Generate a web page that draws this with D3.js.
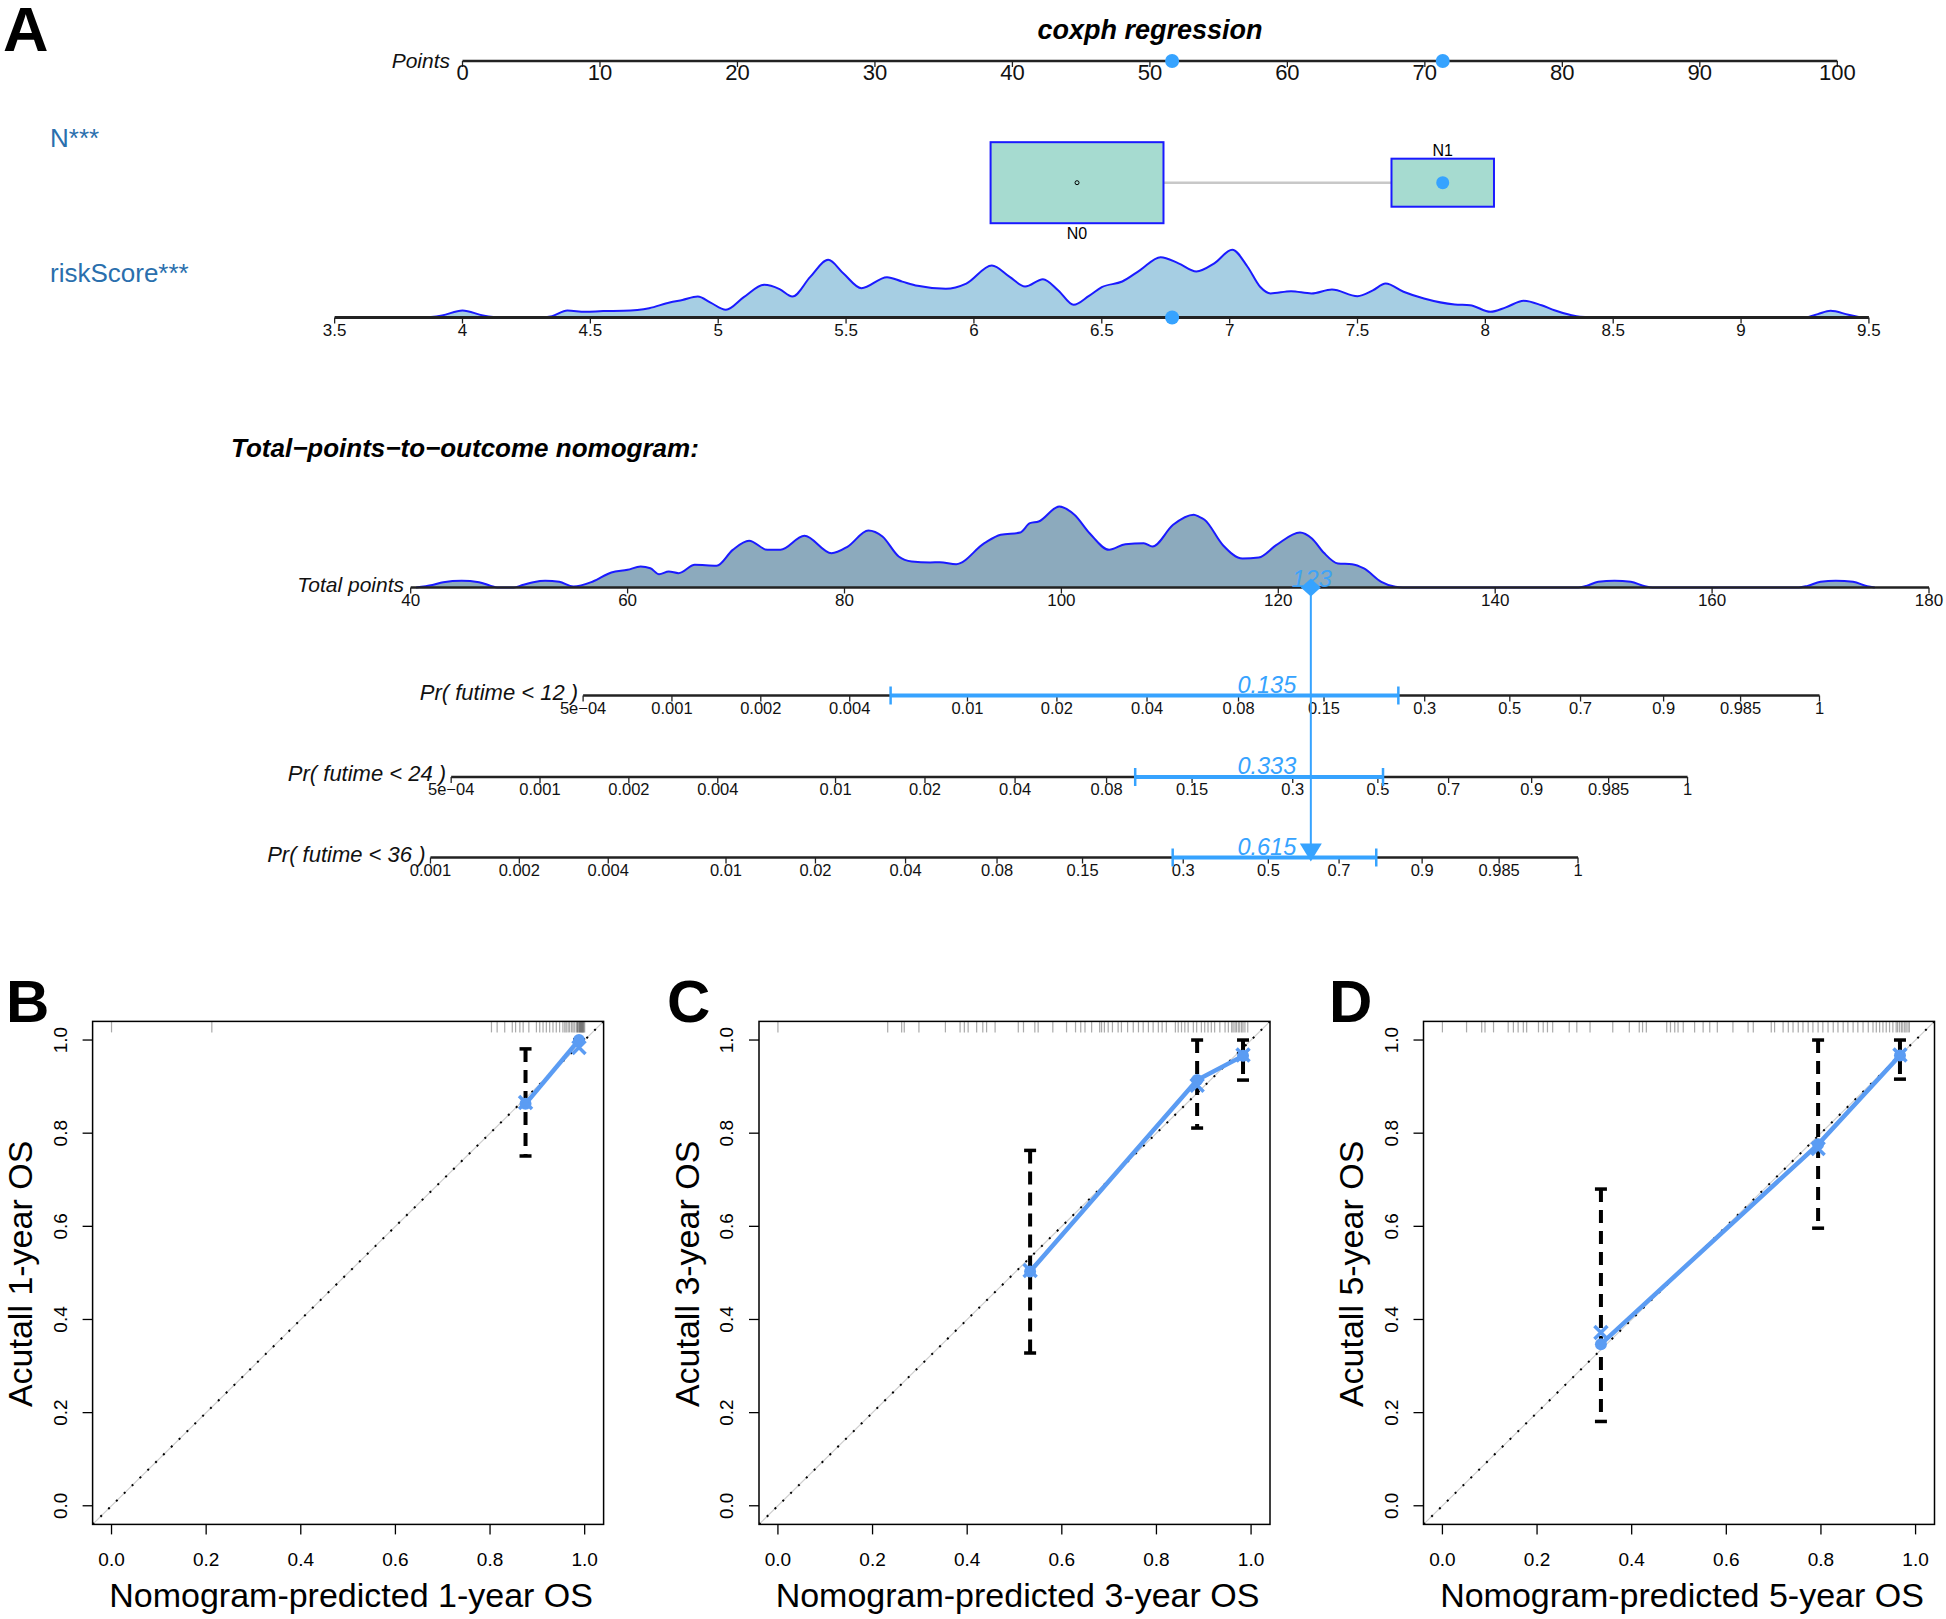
<!DOCTYPE html>
<html><head><meta charset="utf-8">
<script src="https://cdn.jsdelivr.net/npm/d3@7"></script>
<style>body{margin:0;background:#fff}</style>
</head><body>
<svg id="chart" width="1946" height="1619"></svg>
<script>
// ---------------- DATA ----------------
const pointsTicks = [0,10,20,30,40,50,60,70,80,90,100];
const riskTicks = [3.5,4,4.5,5,5.5,6,6.5,7,7.5,8,8.5,9,9.5];
const riskTickLabels = ["3.5","4","4.5","5","5.5","6","6.5","7","7.5","8","8.5","9","9.5"];
const riskAtZero = 4;          // riskScore with 0 points
const riskPointsPerUnit = 18.6; // points per riskScore unit
const riskDensX = [3.80,3.84,3.92,4.0,4.08,4.15,4.3,4.35,4.41,4.48,4.55,4.63,4.73,4.81,4.86,4.92,4.97,5.03,5.1,5.18,5.24,5.29,5.36,5.43,5.49,5.56,5.66,5.72,5.78,5.89,5.97,6.07,6.14,6.2,6.27,6.33,6.39,6.45,6.5,6.58,6.65,6.73,6.8,6.87,6.94,7.01,7.07,7.12,7.16,7.24,7.32,7.4,7.5,7.56,7.61,7.68,7.76,7.88,7.94,8.02,8.08,8.15,8.22,8.27,8.33,8.37,8.45,9.25,9.3,9.35,9.42,9.47];
const riskDensY = [0,0,0.03,0.103,0.03,0,0,0.02,0.103,0.084,0.095,0.099,0.137,0.222,0.26,0.31,0.22,0.114,0.3,0.483,0.42,0.31,0.6,0.852,0.65,0.433,0.595,0.53,0.468,0.424,0.5,0.768,0.6,0.458,0.566,0.4,0.188,0.32,0.448,0.532,0.7,0.891,0.8,0.68,0.8,1.0,0.75,0.45,0.355,0.388,0.355,0.414,0.315,0.4,0.502,0.38,0.28,0.192,0.182,0.084,0.15,0.247,0.18,0.108,0.04,0.01,0,0,0.05,0.099,0.04,0];
const riskObserved = 6.775;

const nCategories = ["N0","N1"];
const nPoints = [44.7, 71.3];
const nFreq = [0.74, 0.26];
const nObserved = 1; // index of N1

const totalTicks = [40,60,80,100,120,140,160,180];
const totalDensX = [40.5,42,43,44.7,46.3,47.4,48,49.5,50.3,51.3,52.4,53.7,55,56.8,58.5,60,61.2,62.1,62.9,63.8,64.7,66.2,68.2,69.7,71.2,72.9,74.1,76.3,78.8,80.3,82.2,83.5,85,86.2,87.9,88.8,90.3,92.9,94.4,96.2,97.1,97.9,99.8,101.2,102.6,104.4,105.9,107.6,108.4,110.3,112.2,112.7,113.2,114.9,116.7,118.2,119.8,122,123.1,124.2,125.5,126.8,127.9,129.5,130.8,131.5,147.5,148.4,149.5,151,152.5,153.8,154.5,168,168.8,170,171.4,173,174.3,175];
const totalDensY = [0,0.03,0.065,0.083,0.065,0.02,0,0,0.03,0.065,0.083,0.07,0.012,0.074,0.185,0.218,0.26,0.238,0.164,0.198,0.177,0.28,0.268,0.465,0.577,0.465,0.465,0.638,0.423,0.506,0.704,0.63,0.383,0.321,0.309,0.312,0.288,0.547,0.651,0.679,0.794,0.815,1.0,0.898,0.67,0.465,0.535,0.547,0.506,0.774,0.898,0.873,0.836,0.522,0.358,0.37,0.522,0.679,0.605,0.428,0.296,0.288,0.235,0.07,0.008,0,0,0.02,0.07,0.083,0.07,0.015,0,0,0.02,0.07,0.083,0.07,0.015,0];
const totalObserved = 123;
const totalObservedLabel = "123";

const prRowLabels = ["Pr( futime < 12 )","Pr( futime < 24 )","Pr( futime < 36 )"];
const lpPerPoint = 0.08466;
const prIntercepts = [-12.333,-11.303,-10.448];
const prTickValues = [
  [0.0005,0.001,0.002,0.004,0.01,0.02,0.04,0.08,0.15,0.3,0.5,0.7,0.9,0.985,0.99958],
  [0.0005,0.001,0.002,0.004,0.01,0.02,0.04,0.08,0.15,0.3,0.5,0.7,0.9,0.985,0.99958],
  [0.001,0.002,0.004,0.01,0.02,0.04,0.08,0.15,0.3,0.5,0.7,0.9,0.985,0.99958]
];
const prTickLabels = [
  ["5e\u221204","0.001","0.002","0.004","0.01","0.02","0.04","0.08","0.15","0.3","0.5","0.7","0.9","0.985","1"],
  ["5e\u221204","0.001","0.002","0.004","0.01","0.02","0.04","0.08","0.15","0.3","0.5","0.7","0.9","0.985","1"],
  ["0.001","0.002","0.004","0.01","0.02","0.04","0.08","0.15","0.3","0.5","0.7","0.9","0.985","1"]
];
const prEstimateLabels = ["0.135","0.333","0.615"];
const prCILow = [0.0055, 0.099, 0.28];
const prCIHigh = [0.252, 0.514, 0.80];

// Calibration panels
const calLetters = ["B","C","D"];
const calYears = ["1","3","5"];
const calTicks = [0,0.2,0.4,0.6,0.8,1.0];
const calTickLabels = ["0.0","0.2","0.4","0.6","0.8","1.0"];
const calPred = [[0.875,0.988],[0.533,0.886,0.983],[0.335,0.794,0.967]];
const calObs = [[0.863,1.0],[0.503,0.914,0.966],[0.347,0.776,0.967]];
const calLow = [[0.751,1.0],[0.328,0.811,0.914],[0.181,0.596,0.916]];
const calHigh = [[0.981,1.0],[0.763,1.0,1.0],[0.680,1.0,1.0]];
const calCorr = [[0.866,0.984],[0.505,0.903,0.968],[0.372,0.767,0.968]];
const rugB = [0.0,0.212,0.803,0.815,0.831,0.847,0.854,0.863,0.870,0.882,0.898,0.905,0.912,0.919,0.926,0.933,0.940,0.947,0.954,0.958,0.961,0.965,0.968,0.972,0.975,0.978,0.982,0.984,0.986,0.989,0.991,0.993,0.995,0.997,1.0,0.985,0.988,0.99,0.992,0.994,0.996,0.998];
const rugC = [0.0,0.232,0.2615,0.267,0.298,0.354,0.385,0.394,0.402,0.42,0.433,0.441,0.459,0.508,0.519,0.543,0.55,0.581,0.61,0.629,0.64,0.649,0.663,0.68,0.684,0.69,0.698,0.707,0.719,0.726,0.739,0.751,0.762,0.772,0.783,0.793,0.804,0.812,0.821,0.84,0.846,0.853,0.86,0.867,0.878,0.885,0.895,0.902,0.909,0.916,0.923,0.934,0.945,0.952,0.959,0.966,0.973,0.98,0.987,0.993,0.962,0.969,0.976,0.983];
const rugD = [0.0,0.051,0.083,0.09,0.108,0.139,0.15,0.16,0.171,0.178,0.203,0.213,0.222,0.233,0.268,0.284,0.312,0.36,0.395,0.416,0.423,0.431,0.474,0.482,0.491,0.498,0.509,0.533,0.551,0.565,0.581,0.614,0.646,0.657,0.695,0.702,0.72,0.731,0.741,0.752,0.762,0.773,0.783,0.794,0.804,0.815,0.826,0.836,0.847,0.857,0.868,0.878,0.889,0.9,0.91,0.917,0.924,0.931,0.938,0.945,0.952,0.959,0.966,0.973,0.98,0.987,0.962,0.97,0.977,0.984];
const calRugs = [rugB, rugC, rugD];

// ---------------- DRAW ----------------
const svg = d3.select("#chart");
svg.append("rect").attr("width",1946).attr("height",1619).attr("fill","#fff");
const FONT = "Liberation Sans, Arial, Helvetica, sans-serif";
const HI = "#36a3ff";
const BLUE = "#1a1aff";

svg.append("text").attr("x",3).attr("y",51).attr("font-family",FONT).attr("font-weight","bold")
  .attr("font-size",63).text("A");
svg.append("text").attr("x",1150).attr("y",39).attr("text-anchor","middle").attr("font-family",FONT)
  .attr("font-weight","bold").attr("font-style","italic").attr("font-size",27).text("coxph regression");

const ptsX = d3.scaleLinear().domain([0,100]).range([462.5,1837.3]);
const totX = d3.scaleLinear().domain([40,180]).range([410.7,1929]);

function nomoAxis(y, x1, x2, ticks, fs, base, lw){
  const g = svg.append("g");
  g.append("line").attr("x1",x1).attr("x2",x2).attr("y1",y).attr("y2",y)
    .attr("stroke","#222").attr("stroke-width",lw||2.5);
  ticks.forEach(t=>{
    g.append("line").attr("x1",t.x).attr("x2",t.x).attr("y1",y).attr("y2",y+6)
      .attr("stroke","#222").attr("stroke-width",1.3);
    g.append("text").attr("x",t.x).attr("y",y+base).attr("text-anchor","middle")
      .attr("font-family",FONT).attr("font-size",fs).attr("fill","#111").text(t.label);
  });
  return g;
}
function rowLabel(x, y, txt, fs){
  svg.append("text").attr("x",x).attr("y",y).attr("text-anchor","end").attr("font-family",FONT)
    .attr("font-style","italic").attr("font-size",fs).attr("fill","#111").text(txt);
}

// Points axis
const yPts = 61;
nomoAxis(yPts, ptsX(0), ptsX(100), pointsTicks.map(v=>({x:ptsX(v),label:String(v)})), 22, 19, 2.5);
rowLabel(450, 68, "Points", 21);

// N row
svg.append("text").attr("x",50).attr("y",147).attr("font-family",FONT).attr("font-size",26)
  .attr("fill","#2a6fad").text("N***");
const yN = 182.7;
svg.append("line").attr("x1",ptsX(nPoints[0])).attr("x2",ptsX(nPoints[1])).attr("y1",yN).attr("y2",yN)
  .attr("stroke","#c8c8c8").attr("stroke-width",2.5);
nCategories.forEach((c,i)=>{
  const w = 201*Math.sqrt(nFreq[i]), h = 94.2*Math.sqrt(nFreq[i]);
  const cx = ptsX(nPoints[i]);
  svg.append("rect").attr("x",cx-w/2).attr("y",yN-h/2).attr("width",w).attr("height",h)
    .attr("fill","#a6dbd0").attr("stroke",BLUE).attr("stroke-width",2);
  if(i===0){
    svg.append("text").attr("x",cx).attr("y",yN+h/2+16).attr("text-anchor","middle")
      .attr("font-family",FONT).attr("font-size",16).text(c);
    svg.append("circle").attr("cx",cx).attr("cy",yN).attr("r",2).attr("fill","none").attr("stroke","#000").attr("stroke-width",1);
  } else {
    svg.append("text").attr("x",cx).attr("y",yN-h/2-3).attr("text-anchor","middle")
      .attr("font-family",FONT).attr("font-size",16).text(c);
  }
});
svg.append("circle").attr("cx",ptsX(nPoints[nObserved])).attr("cy",yN).attr("r",6.5).attr("fill",HI);

// riskScore row
svg.append("text").attr("x",50).attr("y",282).attr("font-family",FONT).attr("font-size",26)
  .attr("fill","#2a6fad").text("riskScore***");
const yRisk = 317.5;
const riskX = v => ptsX((v-riskAtZero)*riskPointsPerUnit);
const riskH = d3.scaleLinear().domain([0,1]).range([0,67.7]);
const riskArea = d3.area().x(d=>riskX(d[0])).y0(yRisk).y1(d=>yRisk-riskH(d[1])).curve(d3.curveMonotoneX);
const riskLine = d3.line().x(d=>riskX(d[0])).y(d=>yRisk-riskH(d[1])).curve(d3.curveMonotoneX);
const riskData = riskDensX.map((x,i)=>[x,riskDensY[i]]);
svg.append("path").attr("d",riskArea(riskData)).attr("fill","#a6cee3");
svg.append("path").attr("d",riskLine(riskData)).attr("fill","none").attr("stroke",BLUE).attr("stroke-width",2);
nomoAxis(yRisk, riskX(3.5), riskX(9.5), riskTicks.map((v,i)=>({x:riskX(v),label:riskTickLabels[i]})), 17, 18, 2.8);
svg.append("circle").attr("cx",riskX(riskObserved)).attr("cy",yRisk).attr("r",7).attr("fill",HI);
svg.append("circle").attr("cx",ptsX((riskObserved-riskAtZero)*riskPointsPerUnit)).attr("cy",yPts).attr("r",7).attr("fill",HI);
svg.append("circle").attr("cx",ptsX(nPoints[nObserved])).attr("cy",yPts).attr("r",7).attr("fill",HI);

// Total points
svg.append("text").attr("x",231).attr("y",457).attr("font-family",FONT).attr("font-weight","bold")
  .attr("font-style","italic").attr("font-size",26).text("Total\u2212points\u2212to\u2212outcome nomogram:");
const yTot = 587.5;
const totH = d3.scaleLinear().domain([0,1]).range([0,81]);
const totData = totalDensX.map((x,i)=>[x,totalDensY[i]]);
const totArea = d3.area().x(d=>totX(d[0])).y0(yTot).y1(d=>yTot-totH(d[1])).curve(d3.curveMonotoneX);
const totLine = d3.line().x(d=>totX(d[0])).y(d=>yTot-totH(d[1])).curve(d3.curveMonotoneX);
svg.append("path").attr("d",totArea(totData)).attr("fill","#8caabd");
svg.append("path").attr("d",totLine(totData)).attr("fill","none").attr("stroke",BLUE).attr("stroke-width",2);
nomoAxis(yTot, totX(40), totX(180), totalTicks.map(v=>({x:totX(v),label:String(v)})), 17, 18, 2.5);
rowLabel(404, 592, "Total points", 21);

// Pr rows
const prY = [695.5, 777, 857.5];
const cloglog = p => Math.log(-Math.log(1-p));
const prX = (row,p) => totX((cloglog(p)-prIntercepts[row])/lpPerPoint);
const xObs = totX(totalObserved);
prRowLabels.forEach((lab,r)=>{
  const ticks = prTickValues[r].map((v,i)=>({x:prX(r,v),label:prTickLabels[r][i]}));
  nomoAxis(prY[r], ticks[0].x, ticks[ticks.length-1].x, ticks, 16.5, 18, 2.5);
  rowLabel(ticks[0].x-5, prY[r]+4, lab, 22);
  // CI
  const xl = prX(r,prCILow[r]), xh = prX(r,prCIHigh[r]);
  svg.append("line").attr("x1",xl).attr("x2",xh).attr("y1",prY[r]).attr("y2",prY[r]).attr("stroke",HI).attr("stroke-width",4);
  [xl,xh].forEach(x=>svg.append("line").attr("x1",x).attr("x2",x).attr("y1",prY[r]-9).attr("y2",prY[r]+9).attr("stroke",HI).attr("stroke-width",2.5));
  svg.append("text").attr("x",xObs-44).attr("y",prY[r]-3).attr("text-anchor","middle").attr("font-family",FONT)
    .attr("font-style","italic").attr("font-size",23.5).attr("fill",HI).text(prEstimateLabels[r]);
});
// vertical line, diamond, arrow
svg.append("line").attr("x1",xObs).attr("x2",xObs).attr("y1",yTot).attr("y2",prY[2]-12).attr("stroke",HI).attr("stroke-width",2);
svg.append("path").attr("d",`M${xObs},${yTot-9}L${xObs+10},${yTot}L${xObs},${yTot+9}L${xObs-10},${yTot}Z`).attr("fill",HI);
svg.append("path").attr("d",`M${xObs-11},${prY[2]-14}L${xObs+11},${prY[2]-14}L${xObs},${prY[2]+4}Z`).attr("fill",HI);
svg.append("text").attr("x",xObs+1).attr("y",yTot-1).attr("text-anchor","middle").attr("font-family",FONT)
  .attr("font-style","italic").attr("font-size",24).attr("fill",HI).attr("opacity",0.9).text(totalObservedLabel);

// ---------------- Calibration ----------------
const calLefts = [92.6, 759, 1423.5];
const letterX = [6, 667, 1329];
const CAL = "#5b9cf3";
const pTop = 1021.4, pH = 503, pW = 511;
calLetters.forEach((L,k)=>{
  const left = calLefts[k];
  const x = d3.scaleLinear().domain([-0.04,1.04]).range([left,left+pW]);
  const y = d3.scaleLinear().domain([-0.04,1.04]).range([pTop+pH,pTop]);
  const g = svg.append("g");
  const clipId = "clip"+k;
  g.append("clipPath").attr("id",clipId).append("rect").attr("x",left).attr("y",pTop).attr("width",pW).attr("height",pH);
  svg.append("text").attr("x",letterX[k]).attr("y",1022).attr("font-family",FONT).attr("font-weight","bold")
    .attr("font-size",60).text(L);
  // rug
  calRugs[k].forEach(v=>{
    g.append("line").attr("x1",x(v)).attr("x2",x(v)).attr("y1",pTop).attr("y2",pTop+11)
      .attr("stroke","#555").attr("stroke-opacity",0.5).attr("stroke-width",1.2);
  });
  const cg = g.append("g").attr("clip-path",`url(#${clipId})`);
  cg.append("line").attr("x1",x(-0.04)).attr("y1",y(-0.04)).attr("x2",x(1.04)).attr("y2",y(1.04))
    .attr("stroke","#cfcfcf").attr("stroke-width",1.2);
  cg.append("line").attr("x1",x(-0.04)).attr("y1",y(-0.04)).attr("x2",x(1.04)).attr("y2",y(1.04))
    .attr("stroke","#000").attr("stroke-width",2).attr("stroke-dasharray","2,9");
  // error bars
  calPred[k].forEach((p,i)=>{
    g.append("line").attr("x1",x(p)).attr("x2",x(p)).attr("y1",y(calHigh[k][i])).attr("y2",y(calLow[k][i]))
      .attr("stroke","#000").attr("stroke-width",4).attr("stroke-dasharray","13,8");
    [calHigh[k][i],calLow[k][i]].forEach(v=>g.append("line").attr("x1",x(p)-6).attr("x2",x(p)+6)
      .attr("y1",y(v)).attr("y2",y(v)).attr("stroke","#000").attr("stroke-width",3.5));
  });
  // calibration line
  const pts = calPred[k].map((p,i)=>[x(p),y(calObs[k][i])]);
  g.append("path").attr("d",d3.line()(pts)).attr("fill","none").attr("stroke",CAL).attr("stroke-width",4.5);
  pts.forEach(pt=>g.append("circle").attr("cx",pt[0]).attr("cy",pt[1]).attr("r",6).attr("fill",CAL));
  calPred[k].forEach((p,i)=>{
    const cx=x(p), cy=y(calCorr[k][i]), s=6.5;
    g.append("path").attr("d",`M${cx-s},${cy-s}L${cx+s},${cy+s}M${cx-s},${cy+s}L${cx+s},${cy-s}`)
      .attr("stroke",CAL).attr("stroke-width",3.5).attr("fill","none");
  });
  // box
  g.append("rect").attr("x",left).attr("y",pTop).attr("width",pW).attr("height",pH)
    .attr("fill","none").attr("stroke","#000").attr("stroke-width",1.5);
  // axes
  calTicks.forEach((v,i)=>{
    g.append("line").attr("x1",x(v)).attr("x2",x(v)).attr("y1",pTop+pH).attr("y2",pTop+pH+10).attr("stroke","#000").attr("stroke-width",1.3);
    g.append("text").attr("x",x(v)).attr("y",1566).attr("text-anchor","middle").attr("font-family",FONT)
      .attr("font-size",19).text(calTickLabels[i]);
    g.append("line").attr("x1",left).attr("x2",left-10).attr("y1",y(v)).attr("y2",y(v)).attr("stroke","#000").attr("stroke-width",1.3);
    g.append("text").attr("transform",`translate(${left-26},${y(v)}) rotate(-90)`).attr("text-anchor","middle")
      .attr("font-family",FONT).attr("font-size",19).text(calTickLabels[i]);
  });
  g.append("text").attr("x",left+pW/2+3).attr("y",1607).attr("text-anchor","middle").attr("font-family",FONT)
    .attr("font-size",34).text(`Nomogram-predicted ${calYears[k]}-year OS`);
  g.append("text").attr("transform",`translate(${left-60.5},${pTop+pH/2+1}) rotate(-90)`).attr("text-anchor","middle")
    .attr("font-family",FONT).attr("font-size",34).text(`Acutall ${calYears[k]}-year OS`);
});
</script>
</body></html>
